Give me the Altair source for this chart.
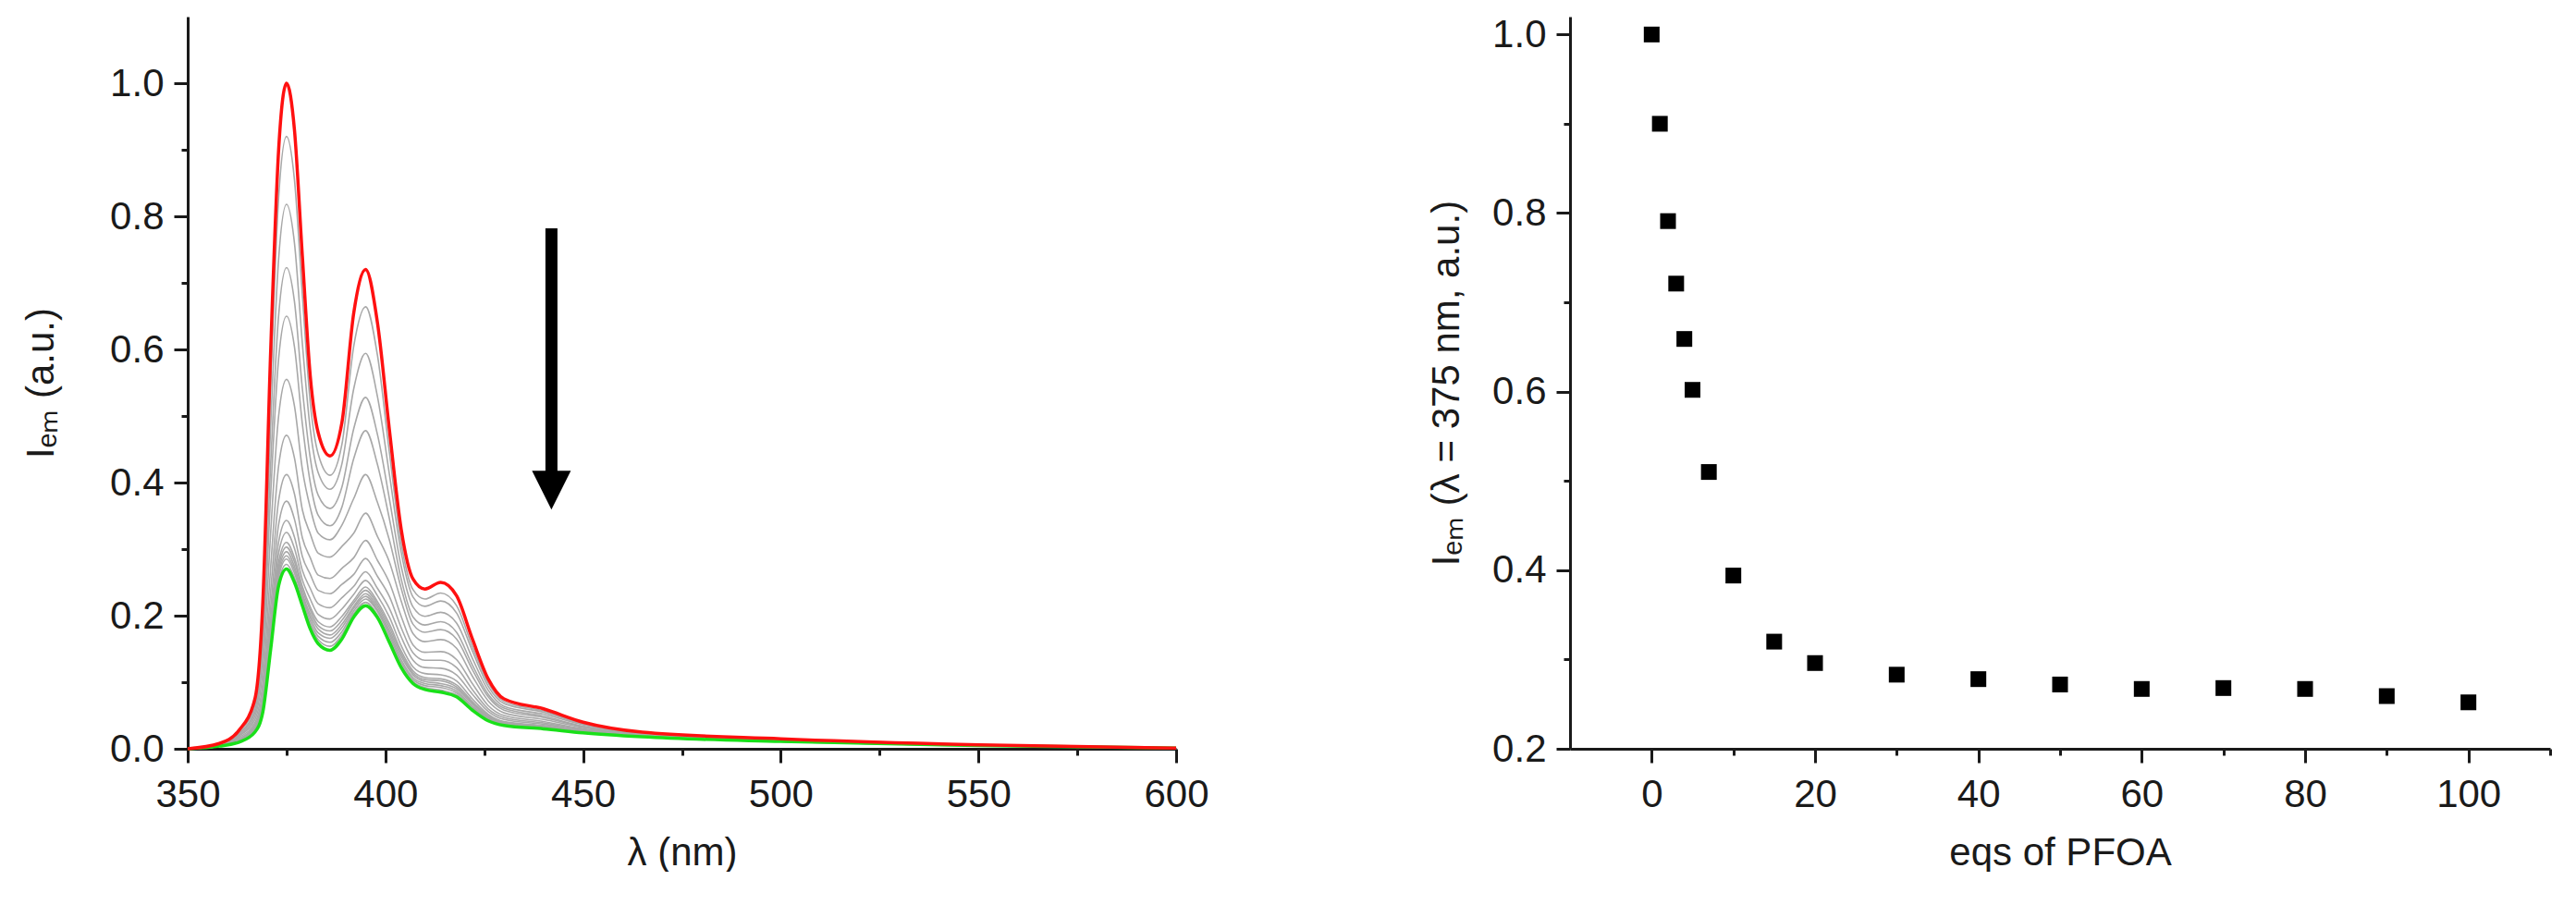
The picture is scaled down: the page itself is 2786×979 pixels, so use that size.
import altair as alt
import pandas as pd

FONT = "Liberation Sans"

# ---------------- left panel: emission spectra ----------------
wavelengths = [350, 358, 363, 367, 369, 371, 373, 375, 377, 379, 381, 383, 386, 389, 392, 395,
               398, 401, 404, 407, 410, 414, 418, 422, 426, 430, 440, 450, 465, 500, 550, 600]

spec_red = [0.000, 0.008, 0.028, 0.075, 0.220, 0.600, 0.900, 1.000, 0.930, 0.740, 0.560, 0.475, 0.440, 0.490, 0.655, 0.720,
            0.640, 0.480, 0.330, 0.255, 0.240, 0.250, 0.230, 0.165, 0.105, 0.075, 0.060, 0.040, 0.025, 0.015, 0.006, 0.001]
spec_green = [0.000, 0.004, 0.010, 0.025, 0.055, 0.150, 0.245, 0.270, 0.250, 0.215, 0.180, 0.158, 0.148, 0.165, 0.198, 0.215,
              0.197, 0.160, 0.122, 0.098, 0.089, 0.085, 0.078, 0.058, 0.042, 0.035, 0.030, 0.024, 0.018, 0.011, 0.005, 0.001]

spec_g01 = [0.000, 0.008, 0.026, 0.070, 0.202, 0.551, 0.828, 0.920, 0.855, 0.682, 0.520, 0.443, 0.411, 0.457, 0.605, 0.664,
            0.591, 0.446, 0.309, 0.239, 0.225, 0.234, 0.215, 0.154, 0.099, 0.071, 0.057, 0.038, 0.024, 0.015, 0.006, 0.001]
spec_g02 = [0.000, 0.007, 0.025, 0.065, 0.179, 0.488, 0.736, 0.818, 0.760, 0.609, 0.480, 0.415, 0.390, 0.428, 0.541, 0.594,
            0.529, 0.413, 0.295, 0.228, 0.214, 0.222, 0.204, 0.147, 0.094, 0.068, 0.055, 0.037, 0.024, 0.014, 0.006, 0.001]
spec_g03 = [0.000, 0.007, 0.023, 0.059, 0.157, 0.429, 0.651, 0.723, 0.672, 0.541, 0.437, 0.381, 0.361, 0.393, 0.481, 0.528,
            0.472, 0.376, 0.274, 0.213, 0.199, 0.205, 0.189, 0.136, 0.088, 0.064, 0.052, 0.036, 0.023, 0.014, 0.006, 0.001]
spec_g04 = [0.000, 0.007, 0.022, 0.054, 0.141, 0.384, 0.586, 0.650, 0.604, 0.488, 0.400, 0.351, 0.335, 0.363, 0.436, 0.478,
            0.427, 0.346, 0.255, 0.198, 0.186, 0.191, 0.175, 0.126, 0.082, 0.061, 0.049, 0.034, 0.022, 0.014, 0.006, 0.001]
spec_g05 = [0.000, 0.006, 0.020, 0.049, 0.119, 0.326, 0.500, 0.555, 0.515, 0.420, 0.362, 0.324, 0.314, 0.336, 0.376, 0.412,
            0.370, 0.314, 0.241, 0.187, 0.175, 0.179, 0.165, 0.119, 0.078, 0.058, 0.047, 0.033, 0.022, 0.013, 0.006, 0.001]
spec_g06 = [0.000, 0.006, 0.019, 0.044, 0.100, 0.274, 0.425, 0.471, 0.437, 0.359, 0.323, 0.294, 0.288, 0.304, 0.324, 0.354,
            0.319, 0.281, 0.222, 0.173, 0.161, 0.164, 0.151, 0.109, 0.072, 0.054, 0.044, 0.032, 0.021, 0.013, 0.005, 0.001]
spec_g07 = [0.000, 0.005, 0.017, 0.039, 0.087, 0.238, 0.373, 0.412, 0.383, 0.317, 0.287, 0.261, 0.256, 0.271, 0.287, 0.313,
            0.283, 0.250, 0.199, 0.156, 0.145, 0.146, 0.134, 0.098, 0.065, 0.050, 0.041, 0.030, 0.021, 0.012, 0.005, 0.001]
spec_g08 = [0.000, 0.005, 0.015, 0.036, 0.078, 0.213, 0.337, 0.372, 0.345, 0.289, 0.262, 0.238, 0.233, 0.247, 0.262, 0.286,
            0.259, 0.229, 0.182, 0.144, 0.133, 0.133, 0.122, 0.089, 0.060, 0.047, 0.039, 0.029, 0.020, 0.012, 0.005, 0.001]
spec_g09 = [0.000, 0.005, 0.014, 0.033, 0.072, 0.195, 0.311, 0.343, 0.318, 0.268, 0.241, 0.218, 0.212, 0.227, 0.244, 0.266,
            0.241, 0.211, 0.168, 0.133, 0.122, 0.121, 0.111, 0.082, 0.056, 0.044, 0.037, 0.028, 0.020, 0.012, 0.005, 0.001]
spec_g10 = [0.000, 0.005, 0.013, 0.031, 0.067, 0.184, 0.294, 0.325, 0.301, 0.254, 0.225, 0.202, 0.195, 0.210, 0.232, 0.253,
            0.230, 0.198, 0.155, 0.123, 0.113, 0.111, 0.102, 0.075, 0.052, 0.041, 0.035, 0.027, 0.019, 0.012, 0.005, 0.001]
spec_g11 = [0.000, 0.004, 0.012, 0.029, 0.064, 0.175, 0.281, 0.310, 0.287, 0.244, 0.213, 0.191, 0.183, 0.199, 0.223, 0.243,
            0.221, 0.188, 0.147, 0.117, 0.107, 0.105, 0.096, 0.071, 0.050, 0.040, 0.034, 0.026, 0.019, 0.011, 0.005, 0.001]
spec_g12 = [0.000, 0.004, 0.012, 0.029, 0.062, 0.170, 0.274, 0.303, 0.281, 0.239, 0.208, 0.185, 0.177, 0.193, 0.219, 0.238,
            0.217, 0.183, 0.143, 0.114, 0.104, 0.102, 0.093, 0.069, 0.048, 0.039, 0.033, 0.026, 0.019, 0.011, 0.005, 0.001]
spec_g13 = [0.000, 0.004, 0.011, 0.028, 0.061, 0.166, 0.268, 0.296, 0.274, 0.233, 0.202, 0.180, 0.171, 0.187, 0.214, 0.233,
            0.213, 0.178, 0.139, 0.111, 0.101, 0.098, 0.090, 0.067, 0.047, 0.038, 0.032, 0.025, 0.019, 0.011, 0.005, 0.001]
spec_g14 = [0.000, 0.004, 0.011, 0.027, 0.060, 0.163, 0.263, 0.290, 0.269, 0.230, 0.197, 0.174, 0.166, 0.182, 0.211, 0.229,
            0.209, 0.174, 0.134, 0.107, 0.098, 0.095, 0.087, 0.064, 0.046, 0.037, 0.032, 0.025, 0.018, 0.011, 0.005, 0.001]
spec_g15 = [0.000, 0.004, 0.011, 0.027, 0.058, 0.159, 0.258, 0.285, 0.264, 0.226, 0.191, 0.169, 0.160, 0.176, 0.207, 0.225,
            0.206, 0.170, 0.130, 0.104, 0.095, 0.092, 0.084, 0.062, 0.045, 0.037, 0.031, 0.025, 0.018, 0.011, 0.005, 0.001]
spec_g16 = [0.000, 0.004, 0.010, 0.026, 0.057, 0.155, 0.252, 0.277, 0.257, 0.220, 0.186, 0.164, 0.154, 0.171, 0.203, 0.220,
            0.201, 0.165, 0.126, 0.101, 0.092, 0.088, 0.081, 0.060, 0.043, 0.036, 0.031, 0.024, 0.018, 0.011, 0.005, 0.001]

gray_curves = [spec_g01, spec_g02, spec_g03, spec_g04, spec_g05, spec_g06, spec_g07, spec_g08,
               spec_g09, spec_g10, spec_g11, spec_g12, spec_g13, spec_g14, spec_g15, spec_g16]

# arrow annotation (data coordinates)
arrow_wl = [442]
arrow_top = [0.782]
arrow_base = [0.415]
arrow_head_center = [0.3885]

# ---------------- right panel: titration ----------------
eqs_pfoa = [0, 1, 2, 3, 4, 5, 7, 10, 15, 20, 30, 40, 50, 60, 70, 80, 90, 100]
i_em_375 = [1.000, 0.900, 0.791, 0.721, 0.659, 0.602, 0.510, 0.394, 0.320, 0.296,
            0.283, 0.278, 0.272, 0.267, 0.268, 0.267, 0.259, 0.252]

# tick values
left_x_ticks = [350, 375, 400, 425, 450, 475, 500, 525, 550, 575, 600]
left_y_ticks = [0.0, 0.1, 0.2, 0.3, 0.4, 0.5, 0.6, 0.7, 0.8, 0.9, 1.0]
right_x_ticks = [0, 10, 20, 30, 40, 50, 60, 70, 80, 90, 100, 110]
right_y_ticks = [0.2, 0.3, 0.4, 0.5, 0.6, 0.7, 0.8, 0.9, 1.0]

# ---------------- build tables ----------------
gray_rows = []
for i, curve in enumerate(gray_curves):
    for w, v in zip(wavelengths, curve):
        gray_rows.append({"wl": w, "I": v, "curve": f"g{i+1:02d}"})
gray_df = pd.DataFrame(gray_rows)
red_df = pd.DataFrame({"wl": wavelengths, "I": spec_red})
green_df = pd.DataFrame({"wl": wavelengths, "I": spec_green})
shaft_df = pd.DataFrame({"wl": arrow_wl, "y": arrow_top, "y2": arrow_base})
head_df = pd.DataFrame({"wl": arrow_wl, "y": arrow_head_center})
titr_df = pd.DataFrame({"eq": eqs_pfoa, "I": i_em_375})

W_L, W_R, H = 1069, 1060, 792
MAJ = 15
MIN = 7

x_left = alt.X("wl:Q",
               scale=alt.Scale(domain=[350, 600], nice=False, zero=False),
               axis=alt.Axis(values=left_x_ticks, format="d",
                             labelExpr="datum.value % 50 === 0 ? datum.label : ''",
                             tickSize={"condition": {"test": "datum.value % 50 === 0", "value": MAJ}, "value": MIN},
                             labelPadding=14, title="λ (nm)", titlePadding=22))
y_left = alt.Y("I:Q",
               scale=alt.Scale(domain=[0, 1.1], nice=False, zero=False),
               axis=alt.Axis(values=left_y_ticks, format=".1f",
                             labelExpr="round(datum.value * 10) % 2 === 0 ? datum.label : ''",
                             tickSize={"condition": {"test": "round(datum.value * 10) % 2 === 0", "value": MAJ}, "value": MIN},
                             labelPadding=11, title="Iₑₘ (a.u.)", titlePadding=52))

gray = alt.Chart(gray_df).mark_line(color="#a8a8a8", strokeWidth=1.6, interpolate="monotone").encode(
    x=x_left, y=y_left, detail="curve:N")
green = alt.Chart(green_df).mark_line(color="#19e019", strokeWidth=3.5, interpolate="monotone").encode(
    x="wl:Q", y="I:Q")
red = alt.Chart(red_df).mark_line(color="#ff1010", strokeWidth=3.5, interpolate="monotone").encode(
    x="wl:Q", y="I:Q")
shaft = alt.Chart(shaft_df).mark_rule(color="black", strokeWidth=13, strokeCap="butt").encode(
    x="wl:Q", y="y:Q", y2="y2:Q")
head = alt.Chart(head_df).mark_point(shape="M-1,-1L1,-1L0,1Z", size=1764, filled=True,
                                      color="black", opacity=1).encode(x="wl:Q", y="y:Q")

left = alt.layer(gray, green, red, shaft, head).properties(width=W_L, height=H)

right = alt.Chart(titr_df).mark_point(shape="square", size=290, filled=True, color="black", opacity=1).encode(
    x=alt.X("eq:Q", scale=alt.Scale(domain=[-10, 110], nice=False, zero=False),
            axis=alt.Axis(values=right_x_ticks, format="d",
                          labelExpr="datum.value % 20 === 0 ? datum.label : ''",
                          tickSize={"condition": {"test": "datum.value % 20 === 0", "value": MAJ}, "value": MIN},
                          labelPadding=14, title="eqs of PFOA", titlePadding=22)),
    y=alt.Y("I:Q", scale=alt.Scale(domain=[0.2, 1.02], nice=False, zero=False),
            axis=alt.Axis(values=right_y_ticks, format=".1f",
                          labelExpr="round(datum.value * 10) % 2 === 0 ? datum.label : ''",
                          tickSize={"condition": {"test": "round(datum.value * 10) % 2 === 0", "value": MAJ}, "value": MIN},
                          labelPadding=11, title="Iₑₘ (λ = 375 nm, a.u.)", titlePadding=27)),
).properties(width=W_R, height=H)

chart = alt.hconcat(left, right, spacing=235).properties(
    padding={"left": 15, "top": 8, "right": 0, "bottom": 0},
    background="white"
).configure_view(stroke=None).configure_axis(
    grid=False, domainColor="#1a1a1a", domainWidth=3, tickColor="#1a1a1a", tickWidth=3,
    labelFont=FONT, labelFontSize=42, labelColor="#1a1a1a",
    titleFont=FONT, titleFontSize=42, titleFontWeight="normal", titleColor="#1a1a1a",
    labelFlush=False, labelOverlap=False
)

chart.save("out.html", embed_options={"renderer": "svg", "actions": False})
